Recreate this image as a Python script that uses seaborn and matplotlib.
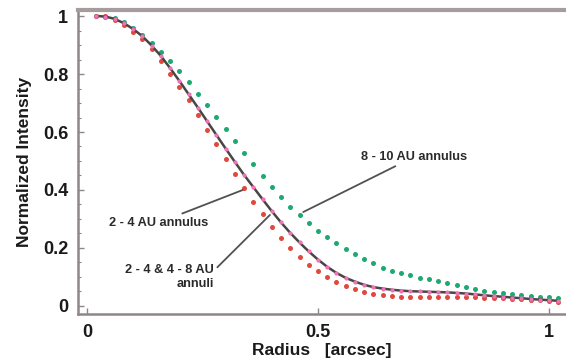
import matplotlib
matplotlib.use("Agg")
import matplotlib.pyplot as plt
from matplotlib.ticker import MultipleLocator, FixedLocator
import numpy as np
import pandas as pd
import seaborn as sns

# Radius sampling of the annular profiles [arcsec]
radius = [0.02, 0.04, 0.06, 0.08, 0.10, 0.12, 0.14, 0.16, 0.18, 0.20,
          0.22, 0.24, 0.26, 0.28, 0.30, 0.32, 0.34, 0.36, 0.38, 0.40,
          0.42, 0.44, 0.46, 0.48, 0.50, 0.52, 0.54, 0.56, 0.58, 0.60,
          0.62, 0.64, 0.66, 0.68, 0.70, 0.72, 0.74, 0.76, 0.78, 0.80,
          0.82, 0.84, 0.86, 0.88, 0.90, 0.92, 0.94, 0.96, 0.98, 1.00,
          1.02]

# 2 - 4 AU annulus (red)
annulus_2_4 = [1.000, 1.000, 0.987, 0.970, 0.946, 0.920, 0.886, 0.844, 0.800, 0.756,
               0.709, 0.660, 0.608, 0.558, 0.507, 0.456, 0.408, 0.360, 0.316, 0.274,
               0.234, 0.200, 0.170, 0.143, 0.120, 0.099, 0.082, 0.069, 0.058, 0.049,
               0.042, 0.037, 0.034, 0.032, 0.031, 0.031, 0.031, 0.031, 0.031, 0.031,
               0.030, 0.030, 0.029, 0.028, 0.027, 0.025, 0.023, 0.021, 0.019, 0.017,
               0.015]

# 8 - 10 AU annulus (green)
annulus_8_10 = [1.000, 0.998, 0.993, 0.980, 0.960, 0.933, 0.906, 0.877, 0.845, 0.810,
                0.771, 0.732, 0.694, 0.653, 0.611, 0.570, 0.529, 0.489, 0.447, 0.410,
                0.376, 0.343, 0.314, 0.285, 0.260, 0.237, 0.216, 0.197, 0.179, 0.162,
                0.147, 0.131, 0.119, 0.113, 0.106, 0.098, 0.092, 0.085, 0.078, 0.072,
                0.066, 0.059, 0.053, 0.047, 0.044, 0.041, 0.038, 0.034, 0.032, 0.030,
                0.028]

# 2 - 4 & 4 - 8 AU annuli (pink)
annuli_2_8 = [1.000, 0.998, 0.990, 0.975, 0.955, 0.930, 0.898, 0.862, 0.820, 0.776,
              0.730, 0.684, 0.637, 0.590, 0.543, 0.497, 0.452, 0.410, 0.368, 0.327,
              0.288, 0.252, 0.219, 0.188, 0.160, 0.135, 0.114, 0.097, 0.084, 0.073,
              0.065, 0.060, 0.056, 0.053, 0.051, 0.050, 0.049, 0.048, 0.047, 0.045,
              0.043, 0.040, 0.037, 0.034, 0.032, 0.029, 0.027, 0.024, 0.022, 0.020,
              0.018]

# reference profile drawn as a solid curve
reference_profile = annuli_2_8

x_ticks = [0, 0.5, 1]
x_tick_labels = ["0", "0.5", "1"]
y_ticks = [0, 0.2, 0.4, 0.6, 0.8, 1]
y_tick_labels = ["0", "0.2", "0.4", "0.6", "0.8", "1"]

sns.set_theme(style="white")
plt.rcParams["font.family"] = ["Liberation Sans", "DejaVu Sans"]

df = pd.DataFrame({
    "radius": radius,
    "a24": annulus_2_4,
    "a810": annulus_8_10,
    "a28": annuli_2_8,
    "ref": reference_profile,
})

fig = plt.figure(figsize=(5.66, 3.6), dpi=100)
ax = fig.add_axes([78 / 566, 46 / 360, 488 / 566, 304 / 360])

red = "#e0493c"
green = "#1ea872"
pink = "#ee72b6"
dark = "#4a4545"
axis_gray = "#8f8787"

sns.scatterplot(data=df, x="radius", y="a810", ax=ax, color=green, s=13,
                linewidth=0, zorder=3)
sns.scatterplot(data=df, x="radius", y="a24", ax=ax, color=red, s=13,
                linewidth=0, zorder=3)
sns.lineplot(data=df, x="radius", y="ref", ax=ax, color=dark, linewidth=1.8,
             zorder=4)
sns.scatterplot(data=df, x="radius", y="a28", ax=ax, color=pink, s=9,
                linewidth=0, zorder=5)

ax.set_xlim(-0.0195, 1.0368)
ax.set_ylim(-0.0276, 1.0207)

ax.xaxis.set_major_locator(FixedLocator(x_ticks))
ax.set_xticklabels(x_tick_labels)
ax.yaxis.set_major_locator(FixedLocator(y_ticks))
ax.set_yticklabels(y_tick_labels)
ax.yaxis.set_minor_locator(MultipleLocator(0.05))

ax.tick_params(axis="both", which="major", direction="in", length=4, width=1,
               color=axis_gray, labelsize=13, labelcolor="#1a1a1a", pad=7,
               bottom=True, left=True, top=False, right=False)
ax.tick_params(axis="y", which="minor", direction="in", length=2.5, width=0.8,
               color=axis_gray, left=True, right=False)
for lab in ax.get_xticklabels() + ax.get_yticklabels():
    lab.set_fontweight("bold")

for side in ["left", "bottom"]:
    ax.spines[side].set_color(axis_gray)
    ax.spines[side].set_linewidth(1.8)
ax.spines["top"].set_color("#a59d9d")
ax.spines["top"].set_linewidth(3)
ax.spines["right"].set_visible(False)

ax.set_xlabel("Radius   [arcsec]", fontsize=12.5, fontweight="bold",
              color="#1a1a1a", labelpad=2)
ax.set_ylabel("Normalized Intensity", fontsize=12.5, fontweight="bold",
              color="#1a1a1a", labelpad=8)

# annotation leaders and labels
ann_kw = dict(fontsize=9.2, color="#2a2a2a", fontweight="bold")
line_kw = dict(arrowstyle="-", color="#555050", lw=1.3, shrinkA=0, shrinkB=0)

ax.annotate("8 - 10 AU annulus", xy=(0.468, 0.324), xytext=(0.593, 0.514),
            ha="left", va="center", arrowprops=line_kw, **ann_kw)
ax.annotate("2 - 4 AU annulus", xy=(0.337, 0.40), xytext=(0.262, 0.287),
            ha="right", va="center", arrowprops=line_kw, **ann_kw)
ax.annotate("2 - 4 & 4 - 8 AU\nannuli", xy=(0.396, 0.314), xytext=(0.275, 0.10),
            ha="right", va="center", multialignment="right",
            arrowprops=dict(line_kw, relpos=(1.0, 0.75)), **ann_kw)

fig.savefig("out.png", dpi=100, facecolor="white")
